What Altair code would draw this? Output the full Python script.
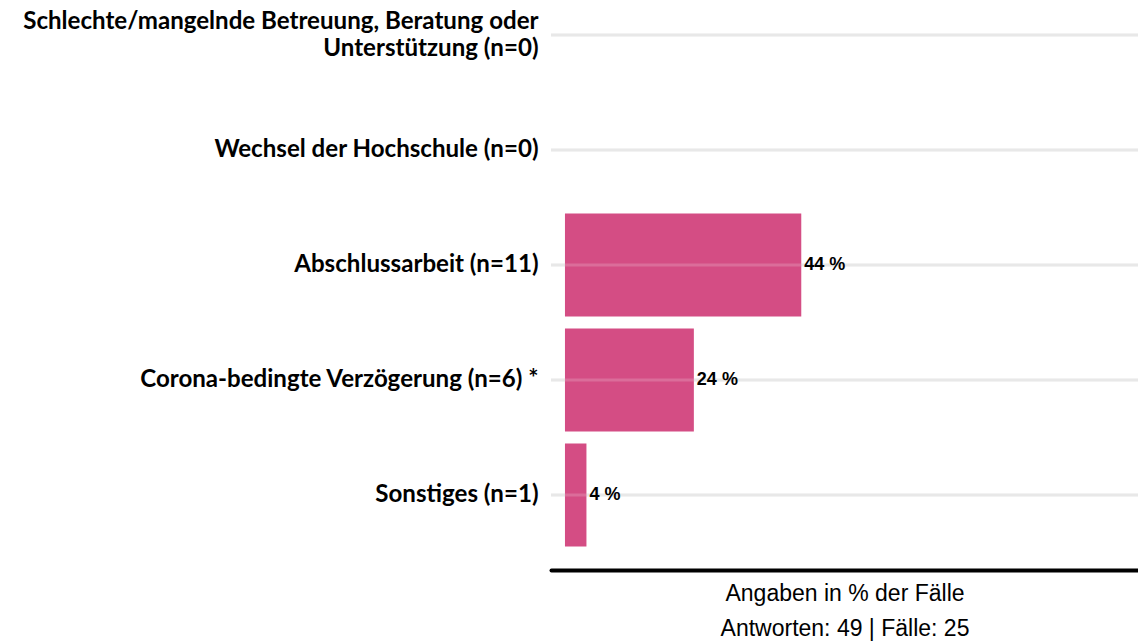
import altair as alt
import pandas as pd

categories = [
    "Schlechte/mangelnde Betreuung, Beratung oder\nUnterstützung (n=0)",
    "Wechsel der Hochschule (n=0)",
    "Abschlussarbeit (n=11)",
    "Corona-bedingte Verzögerung (n=6) *",
    "Sonstiges (n=1)",
]
values = [0, 0, 44, 24, 4]
value_labels = ["", "", "44 %", "24 %", "4 %"]
axis_title = ["Angaben in % der Fälle", "Antworten: 49 | Fälle: 25"]

df = pd.DataFrame({"cat": categories, "val": values, "lab": value_labels})

x_scale = alt.Scale(domain=[-2.6, 106.7], nice=False, zero=False)
y_scale = alt.Scale(domain=categories, paddingInner=0.7, paddingOuter=0.27609, align=0.09055)

y_enc = alt.Y(
    "cat:N",
    sort=categories,
    scale=y_scale,
    axis=alt.Axis(
        title=None,
        domain=False,
        ticks=False,
        grid=False,
        labelExpr="split(datum.label, '\\n')",
        labelFont="Lato",
        labelFontWeight="bold",
        labelFontSize=24.1,
        labelColor="#000000",
        labelLineHeight=27,
        labelPadding=13,
        labelLimit=700,
        labelOffset={"condition": {"test": "indexof(datum.value, 'Schlechte') >= 0", "value": -13}, "value": 0},
    ),
)

x_enc = alt.X(
    "val:Q",
    scale=x_scale,
    axis=alt.Axis(
        title=axis_title,
        labels=False,
        ticks=False,
        grid=False,
        domain=True,
        domainColor="#000000",
        domainWidth=4,
        domainCap="round",
        titleFont="Liberation Sans",
        titleFontWeight="normal",
        titleFontSize=23,
        titleColor="#000000",
        titleLineHeight=35,
        titlePadding=12,
    ),
)

grid = alt.Chart(df).mark_rule(color="#E3E3E3", strokeWidth=3).encode(y=y_enc)

bars = alt.Chart(df).mark_bar(color="#D44D84", size=103).encode(
    y=y_enc, x=x_enc, x2=alt.datum(0)
)

grid_over = alt.Chart(df).mark_rule(color="#FFFFFF", opacity=0.18, strokeWidth=3).encode(
    y=alt.Y("cat:N", sort=categories, scale=y_scale)
)

text = alt.Chart(df).transform_filter("datum.val > 0").mark_text(
    align="left", baseline="middle", dx=3, font="Liberation Sans",
    fontWeight="bold", fontSize=18, color="#000000"
).encode(y=alt.Y("cat:N", sort=categories, scale=y_scale), x=alt.X("val:Q", scale=x_scale), text="lab:N")

chart = alt.layer(grid, bars, grid_over, text).properties(
    width=587,
    height=558,
    autosize=alt.AutoSizeParams(type="none"),
    padding={"left": 543, "top": 4, "right": 0, "bottom": 72},
).configure_view(stroke=None)

chart.save("out.html", embed_options={"renderer": "svg", "actions": False})
